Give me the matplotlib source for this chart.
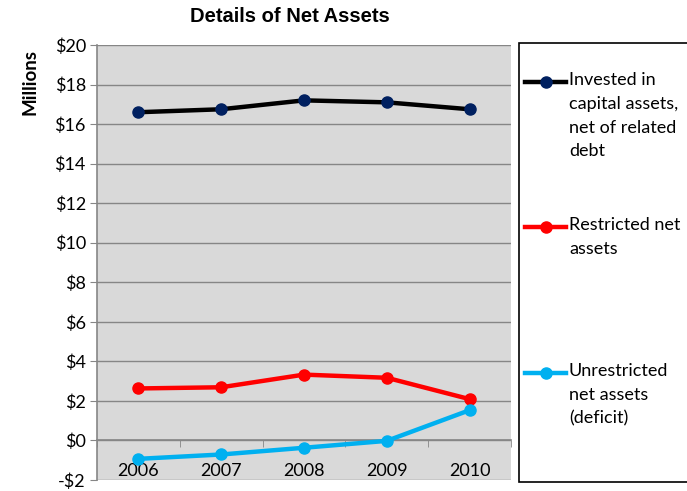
import numpy as np
import matplotlib
matplotlib.use("Agg")
from matplotlib import pyplot as plt
from matplotlib.lines import Line2D
from matplotlib.patches import Rectangle

# values in $ millions
years = ["2006", "2007", "2008", "2009", "2010"]
invested = [16.6, 16.75, 17.2, 17.1, 16.75]
restricted = [2.63, 2.69, 3.33, 3.17, 2.09]
unrestricted = [-0.93, -0.71, -0.37, -0.02, 1.53]

labels = ["Invested in\ncapital assets,\nnet of related\ndebt",
          "Restricted net\nassets",
          "Unrestricted\nnet assets\n(deficit)"]
line_colors = ["#000000", "#FF0000", "#00B0F0"]
marker_colors = ["#002060", "#FF0000", "#00B0F0"]
yticks = np.arange(-2, 21, 2)

body_font = "Lato"
fs = 13

fig = plt.figure(figsize=(6.87, 4.91), dpi=100)
ax = fig.add_axes([97 / 687, 1 - 480 / 491, 414 / 687, 435 / 491])
ax.set_facecolor("#D9D9D9")

# category axis crosses at zero (set first: moving the spine resets the ticks)
ax.spines["bottom"].set_position(("data", 0))
for s in ["bottom", "left"]:
    ax.spines[s].set_color("#868686")
    ax.spines[s].set_linewidth(1.2)
for s in ["top", "right"]:
    ax.spines[s].set_visible(False)

x = np.arange(len(years))
for vals, lc, mc in zip([invested, restricted, unrestricted], line_colors, marker_colors):
    ax.plot(x, vals, color=lc, lw=3.2, marker="o", ms=8,
            markerfacecolor=mc, markeredgecolor=mc, zorder=3)

ax.set_xlim(-0.5, len(years) - 0.5)
ax.set_ylim(-2, 20)
ax.set_yticks(yticks)
ax.set_yticklabels([("-$%d" % -v) if v < 0 else "$%d" % v for v in yticks],
                   fontsize=fs, family=body_font)
ax.yaxis.grid(True, color="#868686", lw=1.0)
ax.set_axisbelow(True)

ax.set_xticks(x)
ax.set_xticklabels(years, fontsize=fs, family=body_font)
ax.set_xticks(np.arange(len(years) + 1) - 0.5, minor=True)
ax.tick_params(axis="x", which="major", length=0, pad=16)
ax.tick_params(axis="x", which="minor", length=5, color="#868686", direction="out")
ax.tick_params(axis="y", length=5, color="#868686", direction="out", pad=3)

fig.text(290 / 687, 1 - 16 / 491, "Details of Net Assets", ha="center", va="center",
         fontsize=14.5, fontweight="bold", family="Liberation Sans")
fig.text(30 / 687, 1 - 82 / 491, "Millions", ha="center", va="center", rotation=90,
         fontsize=13.5, fontweight="bold", family=body_font)

# legend box drawn by hand to keep Excel's spread-out layout
fig.patches.append(Rectangle((519 / 687, 1 - 482 / 491), 200 / 687, 439 / 491,
                             transform=fig.transFigure, facecolor="white",
                             edgecolor="black", lw=1.2))
entry_y = [82, 227, 373]
for lab, lc, mc, ey in zip(labels, line_colors, marker_colors, entry_y):
    yy = 1 - ey / 491
    fig.lines.append(Line2D([525 / 687, 566 / 687], [yy, yy], transform=fig.transFigure,
                            color=lc, lw=3.2))
    fig.lines.append(Line2D([546 / 687], [yy], transform=fig.transFigure, marker="o",
                            ms=8, color=mc, lw=0))
    fig.text(569 / 687, yy + 10 / 491, lab, ha="left", va="top", fontsize=fs,
             family=body_font, linespacing=1.6)

fig.savefig("out.png", dpi=100)
